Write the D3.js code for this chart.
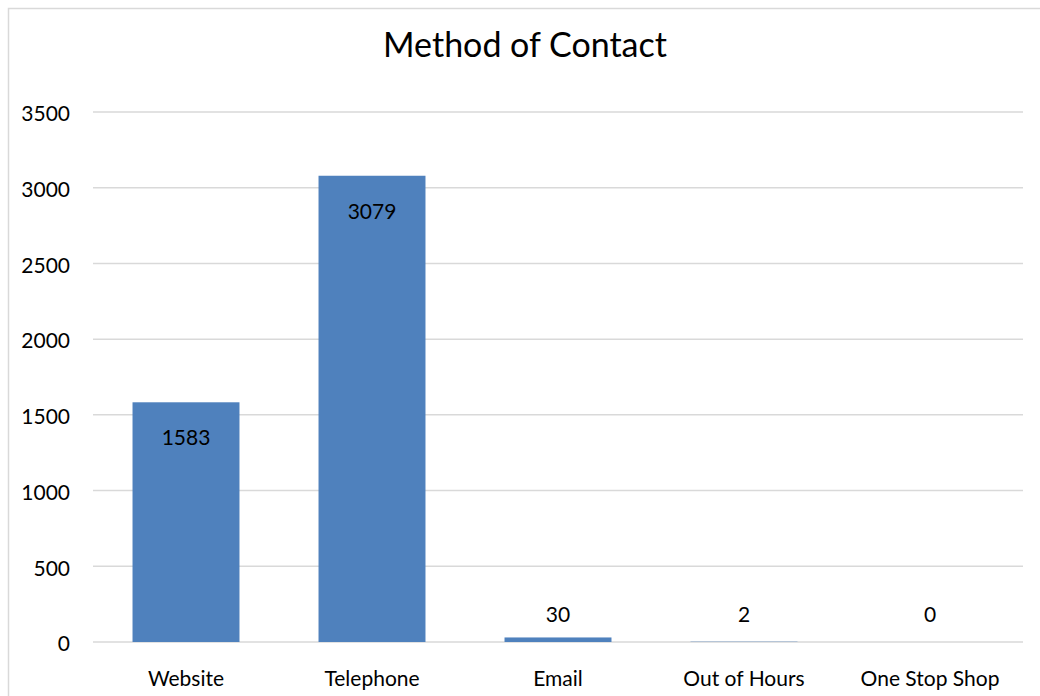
<!DOCTYPE html>
<html>
<head>
<meta charset="utf-8">
<style>
  body { margin: 0; background: #fff; }
  svg { display: block; font-family: Lato, "Open Sans", sans-serif; }
</style>
</head>
<body>
<div id="chart"></div>
<script src="https://cdnjs.cloudflare.com/ajax/libs/d3/7.8.5/d3.min.js"></script>
<script>
    const categories = ["Website", "Telephone", "Email", "Out of Hours", "One Stop Shop"];
    const values = [1583, 3079, 30, 2, 0];
    const yTicks = [0, 500, 1000, 1500, 2000, 2500, 3000, 3500];

    const width = 1040, height = 696;
    const margin = { top: 112, right: 17, bottom: 54, left: 93 };

    const svg = d3.select("#chart").append("svg")
        .attr("width", width)
        .attr("height", height);

    // chart frame (runs off the right and bottom edge)
    svg.append("rect")
        .attr("x", 8.5).attr("y", 8.5)
        .attr("width", width + 20).attr("height", height + 20)
        .attr("fill", "none")
        .attr("stroke", "#d9d9d9")
        .attr("stroke-width", 1.5);

    const x = d3.scaleBand()
        .domain(categories)
        .range([margin.left, width - margin.right])
        .paddingInner(0.425)
        .paddingOuter(0.2125);

    const y = d3.scaleLinear()
        .domain([0, 3500])
        .range([height - margin.bottom, margin.top]);

    // gridlines
    svg.append("g")
        .selectAll("line")
        .data(yTicks)
        .join("line")
        .attr("x1", margin.left)
        .attr("x2", width - margin.right)
        .attr("y1", d => y(d))
        .attr("y2", d => y(d))
        .attr("stroke", "#d9d9d9")
        .attr("stroke-width", 1.5);

    // y axis labels
    const yAxis = d3.axisLeft(y).tickValues(yTicks).tickFormat(d3.format("d"))
        .tickSize(0).tickPadding(23);
    svg.append("g")
        .attr("transform", `translate(${margin.left},2)`)
        .call(yAxis)
        .call(g => g.select(".domain").remove())
        .call(g => g.selectAll("text")
            .attr("font-family", "Lato, 'Open Sans', sans-serif")
            .attr("font-size", 21)
            .attr("fill", "#000"));

    // x axis labels
    const xAxis = d3.axisBottom(x).tickSize(0).tickPadding(29);
    svg.append("g")
        .attr("transform", `translate(0,${height - margin.bottom})`)
        .call(xAxis)
        .call(g => g.select(".domain").remove())
        .call(g => g.selectAll("text")
            .attr("font-family", "Lato, 'Open Sans', sans-serif")
            .attr("font-size", 21)
            .attr("fill", "#000"));

    const data = categories.map((c, i) => ({ name: c, value: values[i] }));

    // bars
    svg.append("g")
        .selectAll("rect")
        .data(data)
        .join("rect")
        .attr("x", d => x(d.name))
        .attr("width", x.bandwidth())
        .attr("y", d => y(d.value))
        .attr("height", d => y(0) - y(d.value))
        .attr("fill", "#4f81bd");

    // data labels: inside end for big bars, just above the axis for small ones
    svg.append("g")
        .selectAll("text")
        .data(data)
        .join("text")
        .attr("x", d => x(d.name) + x.bandwidth() / 2)
        .attr("y", d => d.value > 300 ? y(d.value) + 43 : y(0) - 20)
        .attr("text-anchor", "middle")
        .attr("font-size", 21)
        .attr("fill", "#000")
        .text(d => d.value);

    // title
    svg.append("text")
        .attr("x", 525)
        .attr("y", 57)
        .attr("text-anchor", "middle")
        .attr("font-size", 34)
        .attr("fill", "#000")
        .text("Method of Contact");
</script>
</body>
</html>
